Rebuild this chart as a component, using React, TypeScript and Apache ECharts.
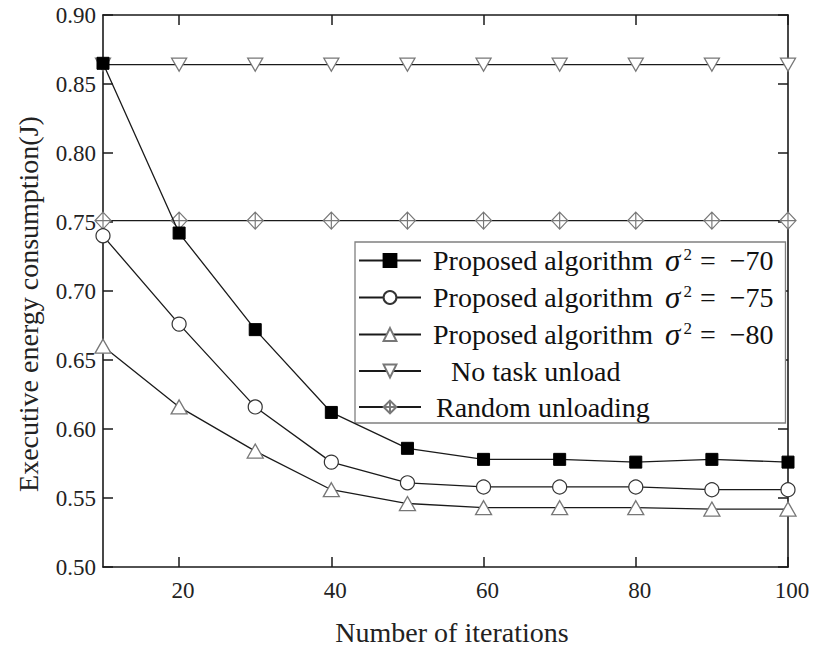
import React, { useEffect, useRef } from "react";
import * as echarts from "echarts";

const iterations = [10, 20, 30, 40, 50, 60, 70, 80, 90, 100];
const sigma70 = [0.865, 0.742, 0.672, 0.612, 0.586, 0.578, 0.578, 0.576, 0.578, 0.576];
const sigma75 = [0.740, 0.676, 0.616, 0.576, 0.561, 0.558, 0.558, 0.558, 0.556, 0.556];
const sigma80 = [0.660, 0.616, 0.584, 0.556, 0.546, 0.543, 0.543, 0.543, 0.542, 0.542];
const noTaskUnload = [0.864, 0.864, 0.864, 0.864, 0.864, 0.864, 0.864, 0.864, 0.864, 0.864];
const randomUnloading = [0.751, 0.751, 0.751, 0.751, 0.751, 0.751, 0.751, 0.751, 0.751, 0.751];
const xTicks = [20, 40, 60, 80, 100];
const seriesNames = [
  "Proposed algorithm σ² = −70",
  "Proposed algorithm σ² = −75",
  "Proposed algorithm σ² = −80",
  "No task unload",
  "Random unloading",
];
const sigmaValues = ["−70", "−75", "−80"];

const FONT = "'Liberation Serif', 'Times New Roman', serif";

export default function App() {
  const ref = useRef<HTMLDivElement>(null);
  useEffect(() => {
    if (!ref.current) return;
    const chart = echarts.init(ref.current, null, { renderer: "svg" });
    const pts = (arr: number[]) => iterations.map((x, i) => [x, arr[i]]);
    const lineStyle = { color: "#1a1a1a", width: 1.3 };
    const option: any = {
      animation: false,
      backgroundColor: "#fff",
      grid: { left: 103, right: 26, top: 15, bottom: 81, containLabel: false },
      xAxis: [
        {
          type: "value",
          min: 10,
          max: 100,
          axisLine: { show: true, onZero: false, lineStyle: { color: "#1a1a1a", width: 1.6 } },
          axisTick: { show: true, inside: true, length: 10, customValues: xTicks, lineStyle: { color: "#1a1a1a", width: 1.5 } },
          axisLabel: {
            customValues: xTicks,
            fontFamily: FONT,
            fontSize: 23,
            color: "#222",
            margin: 12,
            padding: [0, 0, 0, 8],
          },
          splitLine: { show: false },
        },
        {
          type: "value",
          position: "top",
          min: 10,
          max: 100,
          axisLine: { show: true, onZero: false, lineStyle: { color: "#1a1a1a", width: 1.6 } },
          axisTick: { show: true, inside: true, length: 10, customValues: xTicks, lineStyle: { color: "#1a1a1a", width: 1.5 } },
          axisLabel: { show: false },
          splitLine: { show: false },
        },
      ],
      yAxis: [
        {
          type: "value",
          min: 0.5,
          max: 0.9,
          interval: 0.05,
          axisLine: { show: true, onZero: false, lineStyle: { color: "#1a1a1a", width: 1.6 } },
          axisTick: { show: true, inside: true, length: 10, lineStyle: { color: "#1a1a1a", width: 1.5 } },
          axisLabel: {
            fontFamily: FONT,
            fontSize: 23,
            color: "#222",
            margin: 7,
            formatter: (v: number) => v.toFixed(2),
          },
          splitLine: { show: false },
        },
        {
          type: "value",
          position: "right",
          min: 0.5,
          max: 0.9,
          interval: 0.05,
          axisLine: { show: true, onZero: false, lineStyle: { color: "#1a1a1a", width: 1.6 } },
          axisTick: { show: true, inside: true, length: 10, lineStyle: { color: "#1a1a1a", width: 1.5 } },
          axisLabel: { show: false },
          splitLine: { show: false },
        },
      ],
      legend: {
        orient: "vertical",
        left: 355,
        top: 242,
        itemWidth: 62,
        itemHeight: 16,
        itemGap: 6,
        padding: [3, 12, 1, 3],
        borderColor: "#808080",
        borderWidth: 1.3,
        backgroundColor: "#fff",
        data: seriesNames,
        textStyle: {
          fontFamily: FONT,
          fontSize: 28,
          color: "#111",
          lineHeight: 30,
          rich: {
            t: { fontFamily: FONT, fontSize: 28, color: "#111", lineHeight: 30, padding: [0, 0, 0, 7] },
            n: { fontFamily: FONT, fontSize: 28, color: "#111", lineHeight: 30, padding: [0, 0, 0, 25] },
            r: { fontFamily: FONT, fontSize: 28, color: "#111", lineHeight: 30, padding: [0, 0, 0, 10] },
            s: { fontFamily: FONT, fontStyle: "italic", fontSize: 31, color: "#111", lineHeight: 30, padding: [0, 0, 0, 12] },
            sup: { fontFamily: FONT, fontSize: 17, color: "#111", lineHeight: 17, verticalAlign: "top", padding: [0, 8, 0, 3] },
            m: { fontFamily: FONT, fontSize: 28, color: "#111", lineHeight: 30 },
          },
        },
        formatter: (name: string) => {
          const idx = seriesNames.indexOf(name);
          if (idx >= 0 && idx < 3) {
            return `{t|Proposed algorithm}{s|σ}{sup|2}{m|=  ${sigmaValues[idx]}}`;
          }
          if (idx === 3) return `{n|${name}}`;
          return `{r|${name}}`;
        },
      },
      graphic: [
        {
          type: "text",
          x: 28,
          y: 304,
          rotation: Math.PI / 2,
          style: {
            text: "Executive energy consumption(J)",
            font: `28px ${FONT}`,
            fill: "#222",
            align: "center",
            verticalAlign: "middle",
          },
        },
        {
          type: "text",
          x: 452,
          y: 632,
          style: {
            text: "Number of iterations",
            font: `28px ${FONT}`,
            fill: "#222",
            align: "center",
            verticalAlign: "middle",
          },
        },
      ],
      series: [
        {
          name: seriesNames[3],
          type: "line",
          data: pts(noTaskUnload),
          symbol: "path://M0,0 L14,0 L7,12 Z",
          symbolSize: [15, 13],
          itemStyle: { color: "#fff", borderColor: "#777", borderWidth: 1.3 },
          lineStyle,
          clip: false,
          z: 2,
        },
        {
          name: seriesNames[4],
          type: "line",
          data: pts(randomUnloading),
          symbol: "path://M8,0 L16,9 L8,18 L0,9 Z M8,0 L8,18 M0,9 L16,9",
          symbolSize: [16, 17],
          itemStyle: { color: "#fff", borderColor: "#777", borderWidth: 1.2 },
          lineStyle,
          clip: false,
          z: 2,
        },
        {
          name: seriesNames[2],
          type: "line",
          data: pts(sigma80),
          symbol: "triangle",
          symbolSize: [16, 14],
          itemStyle: { color: "#fff", borderColor: "#777", borderWidth: 1.3 },
          lineStyle,
          clip: false,
          z: 3,
        },
        {
          name: seriesNames[1],
          type: "line",
          data: pts(sigma75),
          symbol: "circle",
          symbolSize: 14,
          itemStyle: { color: "#fff", borderColor: "#333", borderWidth: 1.2 },
          lineStyle,
          clip: false,
          z: 4,
        },
        {
          name: seriesNames[0],
          type: "line",
          data: pts(sigma70),
          symbol: "rect",
          symbolSize: 12,
          itemStyle: { color: "#000", borderColor: "#000", borderWidth: 1 },
          lineStyle,
          clip: false,
          z: 5,
        },
      ],
    };
    chart.setOption(option);
    return () => chart.dispose();
  }, []);
  return <div ref={ref} style={{ width: 814, height: 648, position: "absolute", left: 0, top: 0 }} />;
}
